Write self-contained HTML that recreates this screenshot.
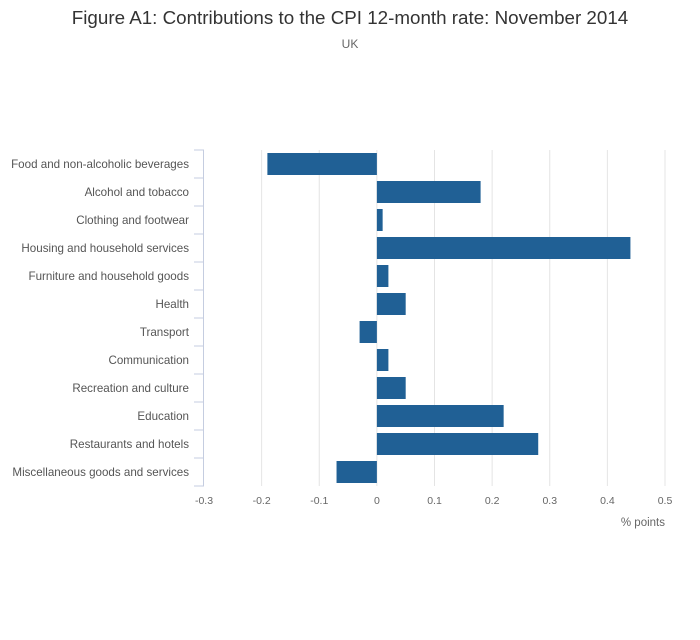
<!DOCTYPE html>
<html><head><meta charset="utf-8"><style>
body{margin:0;background:#fff;font-family:"Liberation Sans",sans-serif}
</style></head><body>
<svg id="chart" width="700" height="635" xmlns="http://www.w3.org/2000/svg">
<text x="350" y="24" text-anchor="middle" font-size="18.8" fill="#333">Figure A1: Contributions to the CPI 12-month rate: November 2014</text>
<text x="350" y="48" text-anchor="middle" font-size="12" fill="#666">UK</text>
<g id="grid"></g><g id="bars"></g><g id="axes"></g>
<text x="665" y="526" text-anchor="end" font-size="11.5" fill="#666">% points</text>
</svg>
<script>
const categories=["Food and non-alcoholic beverages","Alcohol and tobacco","Clothing and footwear","Housing and household services","Furniture and household goods","Health","Transport","Communication","Recreation and culture","Education","Restaurants and hotels","Miscellaneous goods and services"];
const values=[-0.19,0.18,0.01,0.44,0.02,0.05,-0.03,0.02,0.05,0.22,0.28,-0.07];
const xTicks=[-0.3,-0.2,-0.1,0,0.1,0.2,0.3,0.4,0.5];
const xTickLabels=["-0.3","-0.2","-0.1","0","0.1","0.2","0.3","0.4","0.5"];
const NS="http://www.w3.org/2000/svg";
const x0=204,x1=665,topY=150,rowH=28;
const xs=v=>x0+(v-(-0.3))/(0.8)*(x1-x0);
const ys=i=>topY+i*rowH;
function mk(t,a,p){const e=document.createElementNS(NS,t);for(const k in a)e.setAttribute(k,a[k]);document.getElementById(p).appendChild(e);return e;}
xTicks.forEach((t,i)=>{
 if(i>0){const g=mk('line',{x1:xs(t),x2:xs(t),y1:topY,y2:topY+rowH*categories.length,stroke:'#e4e4e4','stroke-width':1},'grid');
 
 }
 const l=mk('text',{x:xs(t),y:504,'text-anchor':'middle','font-size':10.5,fill:'#666'},'axes');
 l.textContent=xTickLabels[i];
 
 
});
const ax=mk('line',{x1:203.5,x2:203.5,y1:topY,y2:topY+rowH*categories.length,stroke:'#c5cde0','stroke-width':1},'axes');


for(let i=0;i<=categories.length;i++){
 const t=mk('line',{x1:194,x2:204,y1:ys(i),y2:ys(i),stroke:'#c5cde0','stroke-width':1},'axes');
 
 
}
categories.forEach((c,i)=>{
 const l=mk('text',{x:189,y:ys(i)+rowH/2+4,'text-anchor':'end','font-size':11.6,fill:'#555'},'axes');
 l.textContent=c;
 
 
 const v=values[i],a=xs(Math.min(0,v)),b=xs(Math.max(0,v));
 const r=mk('rect',{x:a,y:ys(i)+3,width:b-a,height:22,fill:'#206095'},'bars');
 
 
});
</script>
</body></html>
